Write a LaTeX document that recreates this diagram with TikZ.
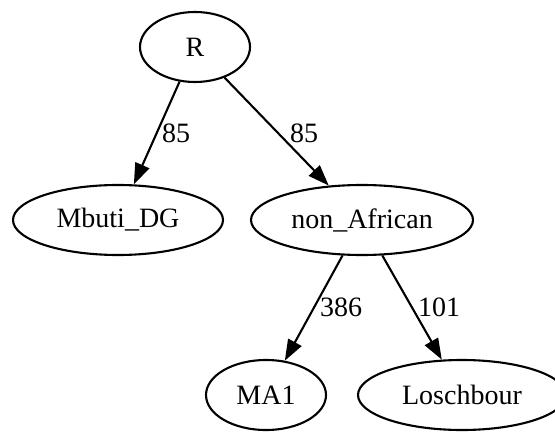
\documentclass[tikz,border=0pt]{standalone}
\usepackage{fontspec}
\setmainfont{Liberation Serif}
\usetikzlibrary{shapes.geometric,arrows.meta}
\begin{document}
\begin{tikzpicture}[x=0.5pt,y=-0.5pt,
  every node/.style={font=\fontsize{14}{16}\selectfont},
  vtx/.style={ellipse,draw,line width=1.05pt,inner sep=0pt,minimum height=35pt},
  link/.style={line width=1.05pt,-{Triangle[length=10.5pt,width=7.5pt]}},
  wt/.style={inner sep=0pt}]
\useasboundingbox (0,0) rectangle (555,432);
% tree nodes
\node[vtx,minimum width=55pt]  (R)   at (195,47)  {R};
\node[vtx,minimum width=105pt] (mb)  at (118,220) {Mbuti\_DG};
\node[vtx,minimum width=111pt] (na)  at (362,220) {non\_African};
\node[vtx,minimum width=60pt]  (ma)  at (266,395) {MA1};
\node[vtx,minimum width=104pt] (lo)  at (462,395) {Loschbour};
% branches
\draw[link] (R) -- (mb);
\draw[link] (R) -- (na);
\draw[link] (na) -- (ma);
\draw[link] (na) -- (lo);
% branch lengths
\node[wt] (w1) at (176,133) {85};
\node[wt] (w2) at (304,133) {85};
\node[wt] (w3) at (341,307) {386};
\node[wt] (w4) at (439,307) {101};
\end{tikzpicture}
\end{document}
